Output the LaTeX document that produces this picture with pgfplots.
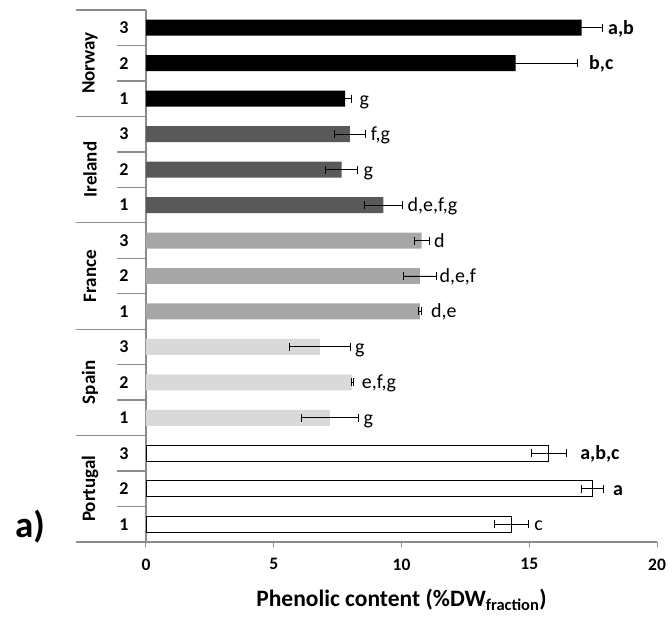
\documentclass[border=0pt]{standalone}
\usepackage{pgfplots}
\pgfplotsset{compat=1.18}
\usepackage{fontspec}
\setmainfont{Carlito}
\definecolor{axgray}{HTML}{8C8C8C}
\definecolor{irl}{HTML}{595959}
\definecolor{fra}{HTML}{A6A6A6}
\definecolor{spa}{HTML}{D9D9D9}
\begin{document}
\begin{tikzpicture}
\begin{axis}[
  name=ax, scale only axis, width=511pt, height=532pt,
  xmin=0, xmax=20, ymin=0.5, ymax=15.5,
  bar width=0.45, bar shift=0pt,
  axis x line*=bottom, axis y line*=left,
  axis line style={draw=axgray, line width=1.3pt},
  xtick={0,5,10,15,20}, xticklabels={0,5,10,15,20},
  tick align=outside, major tick length=5pt,
  xtick style={draw=axgray, line width=1pt},
  ytick={1,...,15}, yticklabels={1,2,3,1,2,3,1,2,3,1,2,3,1,2,3},
  ytick style={draw=none},
  yticklabel style={xshift=-9pt, font=\fontsize{18}{18}\selectfont\bfseries},
  xticklabel style={yshift=-8pt, font=\fontsize{17.5}{17.5}\selectfont\bfseries},
  xlabel={Phenolic content (\%DW\textsubscript{fraction})},
  xlabel style={font=\fontsize{23.5}{23.5}\selectfont\bfseries, yshift=-12pt},
  clip=false,
  error bars/error bar style={black, line width=0.9pt},
  error bars/error mark options={rotate=90, black, line width=0.9pt, mark size=4pt},
]
% Norway
\addplot[xbar, fill=black, draw=none, error bars/.cd, x dir=both, x explicit]
  coordinates {(7.79,13) +- (0.26,0) (14.47,14) +- (2.41,0) (17.05,15) +- (0.82,0)};
% Ireland
\addplot[xbar, fill=irl, draw=none, error bars/.cd, x dir=both, x explicit]
  coordinates {(9.29,10) +- (0.75,0) (7.66,11) +- (0.62,0) (7.98,12) +- (0.60,0)};
% France
\addplot[xbar, fill=fra, draw=none, error bars/.cd, x dir=both, x explicit]
  coordinates {(10.72,7) +- (0.07,0) (10.72,8) +- (0.65,0) (10.79,9) +- (0.30,0)};
% Spain
\addplot[xbar, fill=spa, draw=none, error bars/.cd, x dir=both, x explicit]
  coordinates {(7.20,4) +- (1.10,0) (8.07,5) +- (0.04,0) (6.81,6) +- (1.20,0)};
% Portugal
\addplot[xbar, fill=white, draw=black, line width=0.9pt, error bars/.cd, x dir=both, x explicit]
  coordinates {(14.31,1) +- (0.66,0) (17.48,2) +- (0.44,0) (15.77,3) +- (0.68,0)};
% letter labels
\addplot[draw=none, mark=none, nodes near coords, point meta=explicit symbolic,
  nodes near coords style={anchor=base west, inner sep=0pt, yshift=-6.5pt, font=\fontsize{20}{20}\selectfont, black}]
  coordinates {
  (18.08,15) [\textbf{a,b}]
  (17.34,14) [\textbf{b,c}]
  (8.35,13) [g]
  (8.79,12) [f,g]
  (8.51,11) [g]
  (10.23,10) [d,e,f,g]
  (11.27,9) [d]
  (11.48,8) [d,e,f]
  (11.15,7) [d,e]
  (8.18,6) [g]
  (8.44,5) [e,f,g]
  (8.51,4) [g]
  (16.99,3) [\textbf{a,b,c}]
  (18.27,2) [\textbf{a}]
  (15.19,1) [c]
  };
% group separators
\foreach \yy in {15.5,12.5,9.5,6.5,3.5,0.5} {
  \edef\tmp{\noexpand\draw[axgray, line width=1.3pt] (axis cs:0,\yy) -- ++(-70pt,0pt);}\tmp
}
\foreach \yy in {14.5,13.5,11.5,10.5,8.5,7.5,5.5,4.5,2.5,1.5} {
  \edef\tmp{\noexpand\draw[axgray, line width=1.3pt] (axis cs:0,\yy) -- ++(-29pt,0pt);}\tmp
}
\node[rotate=90, font=\fontsize{19}{19}\selectfont\bfseries] at ([xshift=-56pt]axis cs:0,14) {Norway};
\node[rotate=90, font=\fontsize{19}{19}\selectfont\bfseries] at ([xshift=-56pt]axis cs:0,11) {Ireland};
\node[rotate=90, font=\fontsize{19}{19}\selectfont\bfseries] at ([xshift=-56pt]axis cs:0,8) {France};
\node[rotate=90, font=\fontsize{19}{19}\selectfont\bfseries] at ([xshift=-56pt]axis cs:0,5) {Spain};
\node[rotate=90, font=\fontsize{19}{19}\selectfont\bfseries] at ([xshift=-56pt]axis cs:0,2) {Portugal};
\node[font=\fontsize{37}{37}\selectfont\bfseries, anchor=base] at ([xshift=-116pt, yshift=-13pt]axis cs:0,1) {a)};
\end{axis}
\pgfresetboundingbox
\path (ax.south west) ++(-146pt,-74pt) rectangle ++(672pt,616pt);
\end{tikzpicture}
\end{document}
